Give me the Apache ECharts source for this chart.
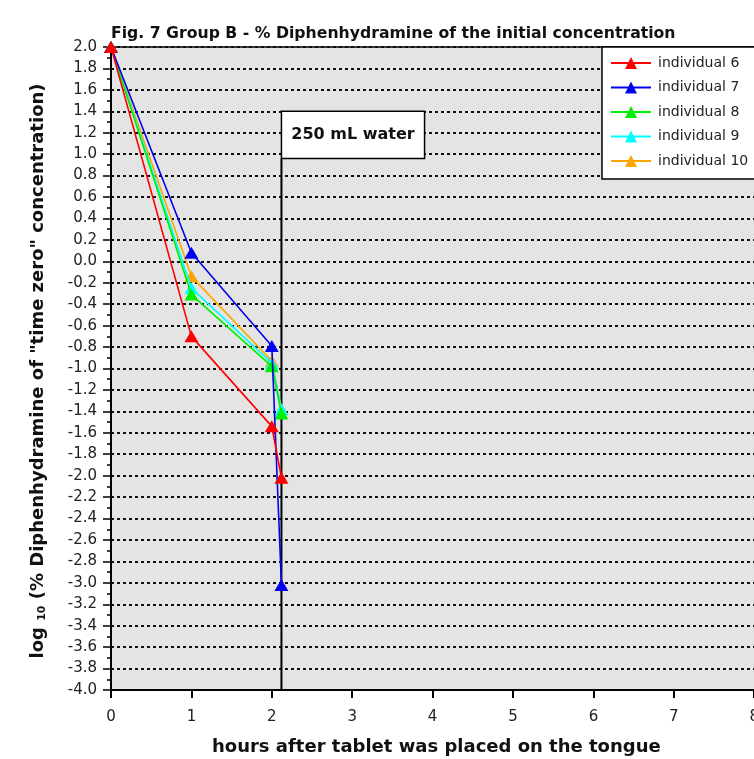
<!DOCTYPE html>
<html>
<head>
<meta charset="utf-8">
<style>
  html, body { margin: 0; padding: 0; background: #fff; }
  #chart { width: 754px; height: 759px; }
</style>
<script src="https://cdn.jsdelivr.net/npm/echarts@6/dist/echarts.min.js"></script>
</head>
<body>
<div id="chart"></div>
<script>
// Sampling times (hours after the tablet was placed on the tongue)
const hours = [0, 1, 2, 2.12];

// log10 of % diphenhydramine relative to the time-zero concentration
const individual6  = [2.0, -0.70, -1.54, -2.02];
const individual7  = [2.0,  0.08, -0.79, -3.02];
const individual8  = [2.0, -0.31, -0.98, -1.42];
const individual9  = [2.0, -0.25, -0.95, -1.38];
const individual10 = [2.0, -0.14, -0.93, -1.38];

const seriesNames  = ['individual 6', 'individual 7', 'individual 8', 'individual 9', 'individual 10'];
const seriesValues = [individual6, individual7, individual8, individual9, individual10];
const seriesColors = ['#ff0000', '#0000ee', '#00ee00', '#00ffff', '#ffa500'];

// Water intake marker: time of the 250 mL drink and its label box extent
const waterTime = 2.12;
const waterLabel = '250 mL water';
const waterBoxTop = 1.4, waterBoxBottom = 0.96, waterBoxRight = 3.9;

const FONT = '"DejaVu Sans", sans-serif';

const chart = echarts.init(document.getElementById('chart'));

const lineSeries = seriesValues.map((vals, i) => ({
  name: seriesNames[i],
  type: 'line',
  data: vals.map((v, k) => [hours[k], v]),
  symbol: 'triangle',
  symbolSize: [14, 12],
  z: 10 - i,
  lineStyle: { color: seriesColors[i], width: 1.6 },
  itemStyle: { color: seriesColors[i] },
  emphasis: { disabled: true },
  animation: false
}));

const waterSeries = {
  name: 'water',
  type: 'line',
  data: [[waterTime, -4], [waterTime, waterBoxBottom]],
  symbol: 'none',
  z: 1,
  lineStyle: { color: '#000', width: 2 },
  emphasis: { disabled: true },
  animation: false,
  markArea: {
    silent: true,
    itemStyle: { color: '#fff', borderColor: '#000', borderWidth: 1.5 },
    label: {
      show: true, position: 'inside', formatter: waterLabel,
      fontFamily: FONT, fontSize: 16, fontWeight: 'bold', color: '#111'
    },
    data: [[{ coord: [waterTime, waterBoxTop] }, { coord: [waterBoxRight, waterBoxBottom] }]]
  }
};

chart.setOption({
  backgroundColor: '#fff',
  animation: false,
  textStyle: { fontFamily: FONT },
  title: {
    text: 'Fig. 7 Group B - % Diphenhydramine of the initial concentration',
    left: 106, top: 21,
    textStyle: { fontFamily: FONT, fontSize: 15.7, fontWeight: 'bold', color: '#111' }
  },
  legend: {
    data: seriesNames,
    orient: 'vertical',
    left: 602, top: 47,
    backgroundColor: '#fff',
    borderColor: '#000',
    borderWidth: 1.5,
    borderRadius: 0,
    padding: [9, 30, 11, 8],
    itemWidth: 40,
    itemHeight: 15,
    itemGap: 10.5,
    textStyle: { fontFamily: FONT, fontSize: 14, color: '#222', padding: [0, 0, 0, 2] }
  },
  grid: {
    left: 111, top: 47, width: 804, height: 643,
    outerBoundsMode: 'none',
    show: true, backgroundColor: '#e4e4e4', borderColor: '#000', borderWidth: 1.5
  },
  xAxis: {
    type: 'value', min: 0, max: 10, interval: 1,
    axisLine: { show: true, onZero: false, lineStyle: { color: '#000', width: 2 } },
    axisTick: { show: true, length: 8, lineStyle: { color: '#000', width: 2 } },
    axisLabel: { margin: 20, fontFamily: FONT, fontSize: 15, color: '#222' },
    splitLine: { show: false }
  },
  yAxis: {
    type: 'value', min: -4, max: 2, interval: 0.2,
    axisLine: { show: true, onZero: false, lineStyle: { color: '#000', width: 2 } },
    axisTick: { show: true, length: 8, lineStyle: { color: '#000', width: 1.5 } },
    minorTick: { show: true, splitNumber: 2, length: 4, lineStyle: { color: '#000', width: 1.5 } },
    axisLabel: {
      margin: 14, fontFamily: FONT, fontSize: 15, color: '#222',
      formatter: v => v.toFixed(1)
    },
    splitLine: { show: true, lineStyle: { color: '#111', width: 2, type: [3, 3] } }
  },
  graphic: [
    {
      type: 'text', left: 212, top: 738,
      style: {
        text: 'hours after tablet was placed on the tongue',
        font: 'bold 18px ' + FONT, fill: '#111'
      }
    },
    {
      type: 'text', x: 38, y: 371, rotation: Math.PI / 2,
      style: {
        text: '{a|log }{s|10}{a| (% Diphenhydramine of "time zero" concentration)}',
        align: 'center', verticalAlign: 'middle',
        rich: {
          a: { fontFamily: FONT, fontSize: 18, fontWeight: 'bold', fill: '#111', lineHeight: 20 },
          s: { fontFamily: FONT, fontSize: 11, fontWeight: 'bold', fill: '#111', padding: [8, 0, 0, 0], lineHeight: 20 }
        }
      }
    }
  ],
  series: [waterSeries].concat(lineSeries)
});
</script>
</body>
</html>
